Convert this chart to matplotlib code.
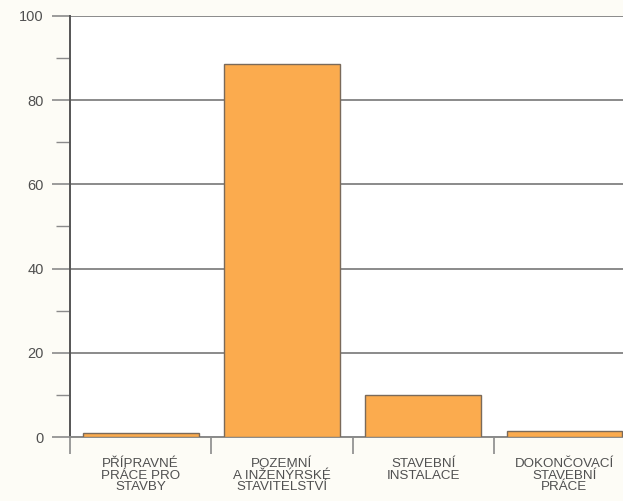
import matplotlib.pyplot as plt
import numpy as np

plt.rcParams['font.family'] = ['Liberation Sans', 'DejaVu Sans']

categories = ["PŘÍPRAVNÉ\nPRÁCE PRO\nSTAVBY",
              "POZEMNÍ\nA INŽENÝRSKÉ\nSTAVITELSTVÍ",
              "STAVEBNÍ\nINSTALACE",
              "DOKONČOVACÍ\nSTAVEBNÍ\nPRÁCE"]
values = [1.0, 88.5, 10.0, 1.5]
y_ticks = [0, 20, 40, 60, 80, 100]

text_col = '#505050'
line_col = '#8a8a8a'

fig = plt.figure(figsize=(6.23, 5.01), dpi=100)
fig.patch.set_facecolor('#fdfcf6')
ax = fig.add_axes([0.1124, 0.1277, 0.907, 0.8405])
ax.set_facecolor('white')

x = np.arange(len(categories))
ax.bar(x, values, width=0.82, color='#fbab4e', edgecolor='#7a6a5a', linewidth=1.0, zorder=3)

ax.set_xlim(-0.5, len(categories) - 0.5)
ax.set_ylim(0, 100)
ax.set_yticks(y_ticks)
ax.set_yticks(np.arange(10, 100, 20), minor=True)
ax.yaxis.grid(True, color=line_col, linewidth=1.4, zorder=0)
ax.tick_params(axis='y', which='major', length=13, width=1.2, color=line_col,
               labelsize=10.5, labelcolor=text_col, pad=6)
ax.tick_params(axis='y', which='minor', length=10, width=1.0, color=line_col)

# category boundaries as x ticks, labels centred under bars
ax.set_xticks(np.arange(-0.5, len(categories), 1.0))
ax.set_xticklabels([])
ax.set_xticks(x, minor=True)
ax.set_xticklabels(categories, minor=True, fontsize=9.6, color=text_col, linespacing=0.98)
ax.tick_params(axis='x', which='minor', length=0, pad=15)
ax.tick_params(axis='x', which='major', length=12, width=1.2, color=line_col, direction='out')

for side in ['top', 'right']:
    ax.spines[side].set_visible(False)
ax.spines['left'].set_color('#555555')
ax.spines['left'].set_linewidth(1.4)
ax.spines['bottom'].set_color(line_col)
ax.spines['bottom'].set_linewidth(1.4)

fig.savefig('out.png', dpi=100, facecolor=fig.get_facecolor())
